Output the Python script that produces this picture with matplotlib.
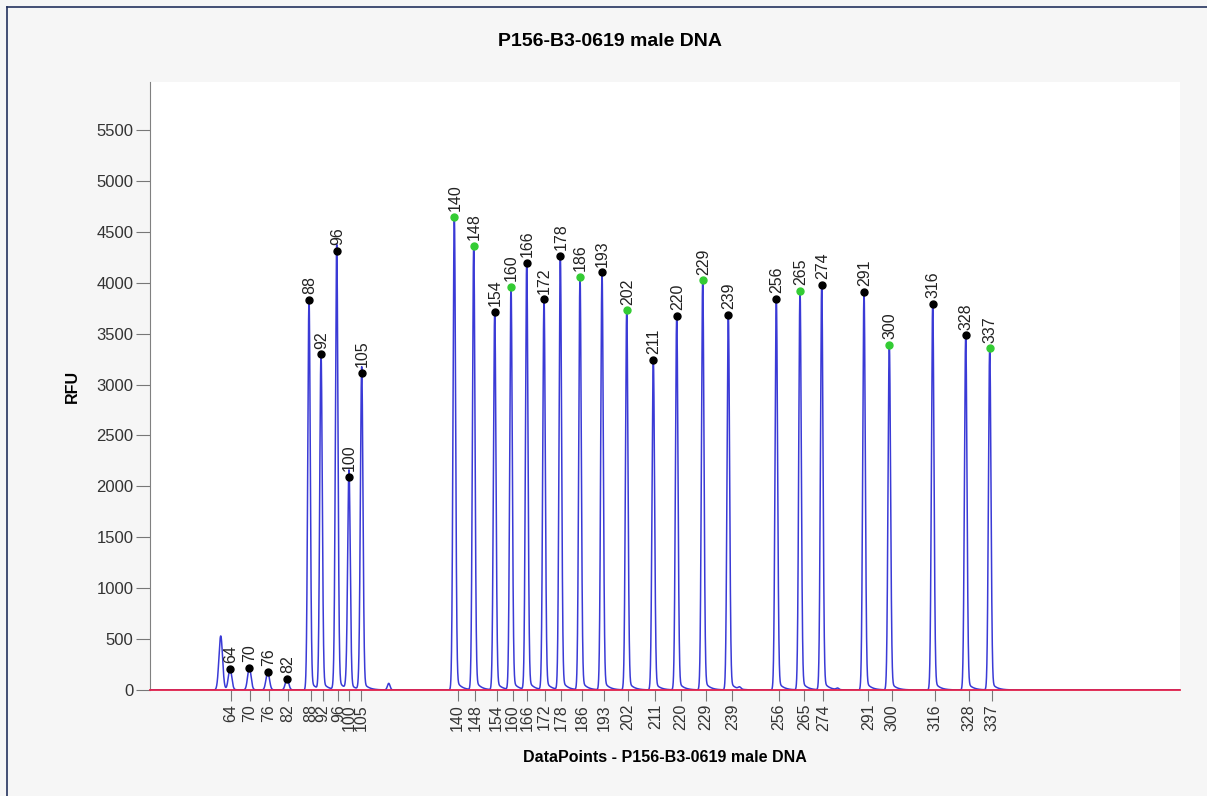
import numpy as np
import matplotlib
matplotlib.use("Agg")
import matplotlib.pyplot as plt
from matplotlib.lines import Line2D

plt.rcParams['font.family'] = ['Liberation Sans', 'DejaVu Sans']

# called sizes (labels) and where the peaks sit, in data points
sizes = [64, 70, 76, 82, 88, 92, 96, 100, 105,
         140, 148, 154, 160, 166, 172, 178, 186, 193, 202, 211, 220, 229, 239,
         256, 265, 274, 291, 300, 316, 328, 337]
peak_pos = [80, 99.3, 117.7, 137, 159, 171, 186.7, 199, 211.7,
            304.3, 323.7, 344.7, 361, 376.7, 394, 410.3, 430, 452, 476.7, 503.3, 526.7, 552.7, 578.3,
            626.3, 650, 671.7, 714, 739.3, 782.7, 815.7, 839.7]
peak_rfu = [206, 219, 180, 108, 3831, 3297, 4316, 2092, 3117,
            4650, 4365, 3714, 3958, 4199, 3838, 4264, 4057, 4104, 3729, 3242, 3675, 4024, 3686,
            3841, 3923, 3982, 3913, 3392, 3795, 3484, 3356]
tick_pos = [81, 100, 118.7, 137.7, 160.7, 172.7, 188.3, 199.3, 211.3,
            307.7, 325, 346.7, 362.7, 377.3, 394.7, 411.3, 432.3, 454.3, 477.7, 505.3, 530.7, 556, 582.3,
            629, 654.3, 673.3, 718.3, 741.7, 785, 819, 842.3]
green_sizes = [140, 148, 160, 186, 202, 229, 265, 300, 337]

# unlabeled peaks / shoulders
extra_pos = [70.7, 185.0, 197.3, 210.0, 238.7, 589.5, 687.5]
extra_rfu = [530, 130, 130, 120, 65, 20, 15]


def peak_shape(x, mu, h, s):
    g = np.exp(-0.5 * ((x - mu) / s) ** 2)
    d = x - mu
    tail = np.where(d >= 0, 0.03 * np.exp(-d / 5.0) * (1 - np.exp(-d / 1.0)), 0.0)
    return h * (g + tail)


x = np.linspace(0, 1030, 20601)
y = np.zeros_like(x)
for mu, h in zip(peak_pos, peak_rfu):
    s = 1.7 if h < 500 else 1.25
    y += peak_shape(x, mu, h, s)
for mu, h in zip(extra_pos, extra_rfu):
    s = 1.8 if h > 300 else 1.3
    y += peak_shape(x, mu, h, s)

fig = plt.figure(figsize=(12.07, 7.96), dpi=100, facecolor='#f6f6f6')
ax = fig.add_axes([150 / 1207, 106 / 796, 1030 / 1207, 608 / 796])
ax.set_facecolor('white')

ax.plot(x, y, color='#3a3ad6', lw=1.1, zorder=2)
ax.axhline(0, color='#e0204a', lw=1.3, zorder=5, clip_on=False)

for s, px, h in zip(sizes, peak_pos, peak_rfu):
    c = '#33cc33' if s in green_sizes else 'black'
    ax.plot(px, h, 'o', color=c, ms=5, zorder=4)
    ax.annotate(str(s), (px, h), xytext=(0.5, 4), textcoords='offset points',
                rotation=90, ha='center', va='bottom', fontsize=11.5, color='#222222')

ax.set_xlim(0, 1030)
ax.set_ylim(0, 5972)
ax.set_yticks(np.arange(0, 5501, 500))
ax.set_xticks(tick_pos)
ax.set_xticklabels([str(s) for s in sizes], rotation=90, fontsize=11.5, color='#333333')
ax.tick_params(axis='y', length=10, color='#777777', labelsize=12, labelcolor='#333333', pad=2)
ax.tick_params(axis='x', length=8, color='#777777', pad=2)

for side in ['top', 'right', 'bottom']:
    ax.spines[side].set_visible(False)
ax.spines['left'].set_color('#808080')

ax.set_ylabel('RFU', fontsize=11.5, fontweight='bold', labelpad=12)
ax.set_xlabel('DataPoints - P156-B3-0619 male DNA', fontsize=11.5, fontweight='bold', labelpad=14)
fig.text(610 / 1207, 1 - 42 / 796, 'P156-B3-0619 male DNA', ha='center', va='center',
         fontsize=14, fontweight='bold')

# thin frame at top and left
fig.add_artist(Line2D([7 / 1207, 1], [1 - 7 / 796, 1 - 7 / 796], color='#25335e', lw=1.2))
fig.add_artist(Line2D([7 / 1207, 7 / 1207], [0, 1 - 7 / 796], color='#25335e', lw=1.2))

fig.savefig('out.png', dpi=100, facecolor=fig.get_facecolor())
